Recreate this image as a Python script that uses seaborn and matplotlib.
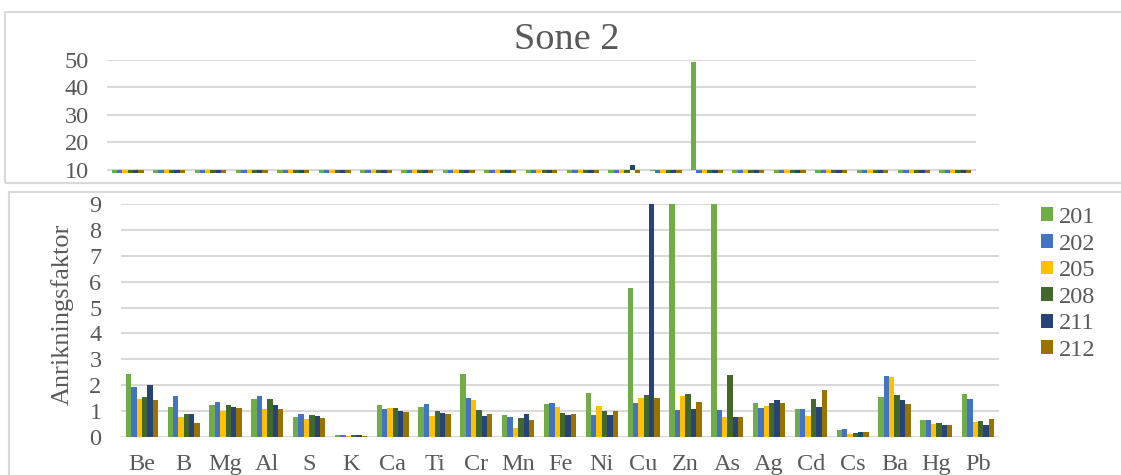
import numpy as np
import pandas as pd
import matplotlib
matplotlib.use("Agg")
import matplotlib.pyplot as plt
import seaborn as sns
from matplotlib.patches import Rectangle

# Enrichment factors per element for each sample in zone 2
elements = ["Be", "B", "Mg", "Al", "S", "K", "Ca", "Ti", "Cr", "Mn", "Fe",
            "Ni", "Cu", "Zn", "As", "Ag", "Cd", "Cs", "Ba", "Hg", "Pb"]
samples = ["201", "202", "205", "208", "211", "212"]

s201 = [2.42, 1.16, 1.24, 1.47, 0.79, 0.08, 1.24, 1.17, 2.42, 0.86, 1.26,
        1.69, 5.74, 9.6, 49.2, 1.33, 1.08, 0.27, 1.55, 0.64, 1.68]
s202 = [1.94, 1.58, 1.36, 1.57, 0.90, 0.08, 1.08, 1.28, 1.52, 0.77, 1.31,
        0.86, 1.31, 1.04, 1.04, 1.13, 1.09, 0.31, 2.36, 0.66, 1.48]
s205 = [1.45, 0.77, 1.00, 1.08, 0.69, 0.05, 1.12, 0.81, 1.44, 0.36, 1.16,
        1.21, 1.49, 1.59, 0.76, 1.20, 0.81, 0.12, 2.31, 0.49, 0.57]
s208 = [1.55, 0.87, 1.24, 1.45, 0.84, 0.08, 1.12, 1.00, 1.05, 0.72, 0.94,
        1.02, 1.63, 1.65, 2.40, 1.33, 1.48, 0.17, 1.62, 0.55, 0.60]
s211 = [2.01, 0.87, 1.17, 1.25, 0.80, 0.08, 1.00, 0.94, 0.80, 0.90, 0.86,
        0.84, 11.8, 1.08, 0.76, 1.44, 1.14, 0.19, 1.44, 0.48, 0.46]
s212 = [1.44, 0.56, 1.13, 1.09, 0.72, 0.05, 0.97, 0.88, 0.88, 0.66, 0.89,
        1.02, 1.50, 1.37, 0.76, 1.33, 1.81, 0.18, 1.28, 0.48, 0.69]

colors = ["#70AD47", "#4472C4", "#FFC000", "#43682B", "#264478", "#997300"]
title = "Sone 2"
ylabel = "Anrikningsfaktor"
top_ticks = [10, 20, 30, 40, 50]
bottom_ticks = list(range(0, 10))

series = [s201, s202, s205, s208, s211, s212]
df = pd.DataFrame({
    "element": np.tile(elements, len(samples)),
    "sample": np.repeat(samples, len(elements)),
    "value": np.concatenate(series),
})

sns.set_theme(style="white")
plt.rcParams["font.family"] = ["Liberation Serif", "DejaVu Serif"]
text_color = "#595959"
grid_color = "#D9D9D9"
fs = 17.5

W, H = 1121, 475
fig = plt.figure(figsize=(W / 100, H / 100), dpi=100)
fig.patch.set_facecolor("white")

# chart frames
fig.patches.append(Rectangle((5 / W, 1 - 183 / H), (W + 20) / W, (183 - 12) / H,
                             transform=fig.transFigure, fill=False,
                             edgecolor=grid_color, linewidth=1.5, clip_on=False))
fig.patches.append(Rectangle((8.7 / W, -0.1), (W + 20) / W, 0.1 + 1 - 191.7 / H,
                             transform=fig.transFigure, fill=False,
                             edgecolor=grid_color, linewidth=1.5, clip_on=False))

ax_top = fig.add_axes([107 / W, 1 - 173 / H, 869 / W, (173 - 59.5) / H])
ax_bot = fig.add_axes([121 / W, 1 - 437 / H, 878 / W, 233 / H])

bar_kw = dict(data=df, x="element", y="value", hue="sample", hue_order=samples,
              order=elements, palette=colors, width=0.77, gap=0, linewidth=0,
              saturation=1, errorbar=None)

sns.barplot(ax=ax_top, legend=False, **bar_kw)
sns.barplot(ax=ax_bot, legend=True, **bar_kw)

# upper panel: the category axis crosses at 10, bars extend from there
for p in ax_top.patches:
    h = p.get_height()
    p.set_y(10)
    p.set_height(h - 10)

ax_top.set_ylim(8.8, 50)
ax_top.set_yticks(top_ticks)
ax_top.set_xticks([])
ax_bot.set_ylim(0, 9)
ax_bot.set_yticks(bottom_ticks)

for ax in (ax_top, ax_bot):
    ax.set_xlabel("")
    ax.set_ylabel("")
    ax.set_axisbelow(True)
    ax.yaxis.grid(True, color=grid_color, linewidth=1.5)
    ax.xaxis.grid(False)
    for s in ax.spines.values():
        s.set_visible(False)
    ax.tick_params(axis="y", length=0, labelsize=fs, labelcolor=text_color)
    ax.set_facecolor("none")

ax_top.tick_params(axis="y", pad=13)
ax_bot.tick_params(axis="y", pad=14)
ax_bot.tick_params(axis="x", length=0, labelsize=fs, labelcolor=text_color, pad=12)

handles, labels = ax_bot.get_legend_handles_labels()
ax_bot.legend_.remove()
leg = fig.legend(handles, labels, loc="upper left",
                 bbox_to_anchor=(1041 / W, 1 - 207 / H), frameon=False,
                 fontsize=fs, handlelength=0.5, handleheight=0.5,
                 handletextpad=0.25, labelspacing=0.23, borderaxespad=0,
                 borderpad=0)
for t in leg.get_texts():
    t.set_color(text_color)

fig.text(567 / W, 1 - 40 / H, title, ha="center", va="center",
         fontsize=27.5, color=text_color)
fig.text(62 / W, 1 - 314 / H, ylabel, ha="center", va="center",
         rotation=90, fontsize=19, color=text_color)

fig.savefig("out.png", dpi=100, facecolor="white")
